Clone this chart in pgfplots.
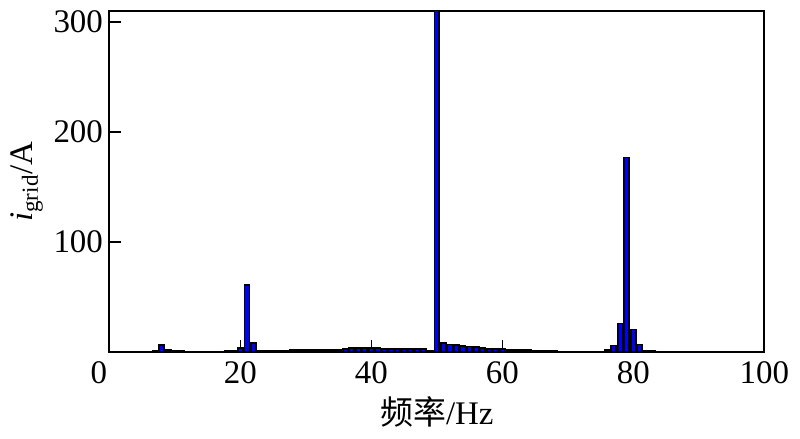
\documentclass[border=0pt]{standalone}
\usepackage{fontspec}
\setmainfont{Liberation Serif}
\newfontfamily\cjk{Noto Sans CJK SC}
\usepackage{pgfplots}
\pgfplotsset{compat=1.18}
\pgfplotstableread{
f v
0 0.3
1 0.3
2 0.3
3 0.3
4 0.3
5 0.4
6 0.5
7 1.5
8 6.5
9 2
10 0.8
11 0.7
12 0.6
13 0.6
14 0.6
15 0.6
16 0.6
17 0.6
18 0.7
19 1
20 3.5
21 61
22 8
23 1.5
24 1.5
25 1.5
26 1.5
27 1.5
28 1.8
29 1.8
30 2
31 2
32 2
33 2
34 2
35 2
36 2.5
37 3.5
38 3.5
39 3.5
40 3.5
41 3.5
42 3
43 3
44 2.5
45 2.5
46 2.5
47 2.5
48 2.5
49 1
50 330
51 8
52 7
53 6.5
54 5.5
55 5
56 4.5
57 3.5
58 3
59 3
60 3
61 2
62 2
63 2
64 2
65 1.5
66 1.5
67 1.5
68 1.5
69 0.6
70 0.6
71 0.6
72 0.6
73 0.6
74 0.6
75 0.6
76 1.8
77 6
78 26
79 177
80 20.5
81 7
82 1.5
83 1
84 0.4
85 0.4
86 0.4
87 0.4
88 0.4
89 0.4
90 0.4
91 0.4
92 0.4
93 0.4
94 0.4
95 0.4
96 0.4
97 0.4
98 0.4
99 0.4
100 0.4
}\spectrum
\begin{document}
\fontsize{17}{20}\selectfont
\begin{tikzpicture}
\begin{axis}[
  scale only axis, width=338pt, height=176pt,
  xmin=0, xmax=100, ymin=0, ymax=310,
  xtick={0,20,...,100}, ytick={100,200,300},
  xticklabels={\makebox[0pt]{\hspace*{-11pt}0},20,40,60,80,100},
  tick align=inside, xtick pos=bottom, ytick pos=left,
  major tick length=6pt, tick style={line width=0.8pt, black},
  axis line style={line width=1pt},
  /pgf/number format/assume math mode=true,
  ticklabel style={font=\fontsize{17}{20}\selectfont},
  xticklabel style={yshift=1pt},
  yticklabel style={xshift=2.5pt},
  label style={font=\fontsize{17}{20}\selectfont},
  xlabel={{\cjk 频率}/Hz},
  ylabel={\textit{i}\textsubscript{grid}/A},
  xlabel style={yshift=5pt},
  ylabel style={yshift=-6pt},
]
\addplot[ybar, bar width=0.75, fill=blue, draw=black, line width=0.9pt] table[x=f, y=v] {\spectrum};
\end{axis}
\end{tikzpicture}
\end{document}
